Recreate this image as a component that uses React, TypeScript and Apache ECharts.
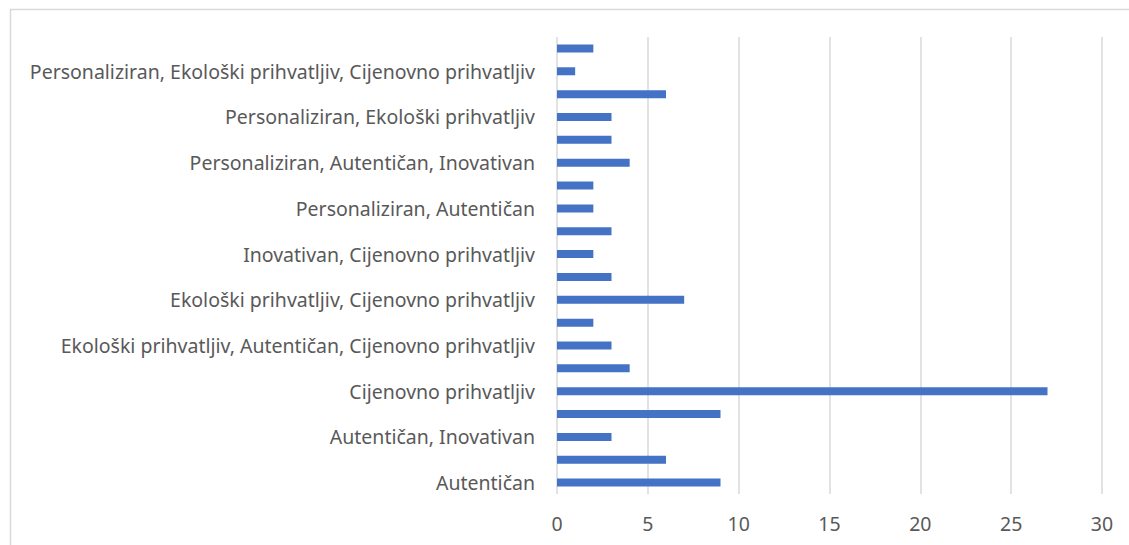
import React, { useEffect, useRef } from "react";
import * as echarts from "echarts";

// Categories listed bottom to top (as the category axis draws them)
const categories: string[] = [
  "Autentičan",
  "Autentičan, Cijenovno prihvatljiv",
  "Autentičan, Inovativan",
  "Autentičan, Inovativan, Cijenovno prihvatljiv",
  "Cijenovno prihvatljiv",
  "Ekološki prihvatljiv",
  "Ekološki prihvatljiv, Autentičan, Cijenovno prihvatljiv",
  "Ekološki prihvatljiv, Autentičan, Inovativan",
  "Ekološki prihvatljiv, Cijenovno prihvatljiv",
  "Inovativan",
  "Inovativan, Cijenovno prihvatljiv",
  "Personaliziran",
  "Personaliziran, Autentičan",
  "Personaliziran, Autentičan, Cijenovno prihvatljiv",
  "Personaliziran, Autentičan, Inovativan",
  "Personaliziran, Cijenovno prihvatljiv",
  "Personaliziran, Ekološki prihvatljiv",
  "Personaliziran, Ekološki prihvatljiv, Autentičan",
  "Personaliziran, Ekološki prihvatljiv, Cijenovno prihvatljiv",
  "Personaliziran, Inovativan",
];

const values: number[] = [9, 6, 3, 9, 27, 4, 3, 2, 7, 3, 2, 3, 2, 2, 4, 3, 3, 6, 1, 2];

const xTicks = { min: 0, max: 30, interval: 5 };

const FONT = "'Noto Sans', sans-serif";

export default function App() {
  const ref = useRef<HTMLDivElement>(null);
  useEffect(() => {
    if (!ref.current) return;
    const chart = echarts.init(ref.current, undefined, { renderer: "svg" });
    chart.setOption({
      animation: false,
      backgroundColor: "#ffffff",
      textStyle: { fontFamily: FONT },
      graphic: [
        {
          type: "rect",
          shape: { x: 10.5, y: 9.5, width: 1130, height: 545 },
          style: { fill: "none", stroke: "#d9d9d9", lineWidth: 1.5 },
          silent: true,
        },
      ],
      grid: { left: 557, right: 27, top: 37, bottom: 51, containLabel: false },
      xAxis: {
        type: "value",
        min: xTicks.min,
        max: xTicks.max,
        interval: xTicks.interval,
        axisLine: { show: false },
        axisTick: { show: false },
        axisLabel: { color: "#595959", fontSize: 19.5, fontFamily: FONT, margin: 19 },
        splitLine: { show: true, lineStyle: { color: "#d9d9d9", width: 1.5 } },
      },
      yAxis: {
        type: "category",
        data: categories,
        axisLine: { show: false },
        axisTick: { show: false },
        axisLabel: { color: "#595959", fontSize: 19.5, fontFamily: FONT, margin: 22, interval: 1 },
        splitLine: { show: false },
      },
      series: [
        {
          type: "bar",
          data: values,
          barWidth: 8,
          itemStyle: { color: "#4472C4" },
        },
      ],
    });
    return () => chart.dispose();
  }, []);
  return (
    <div
      ref={ref}
      style={{ position: "fixed", left: 0, top: 0, width: 1129, height: 545 }}
    />
  );
}
